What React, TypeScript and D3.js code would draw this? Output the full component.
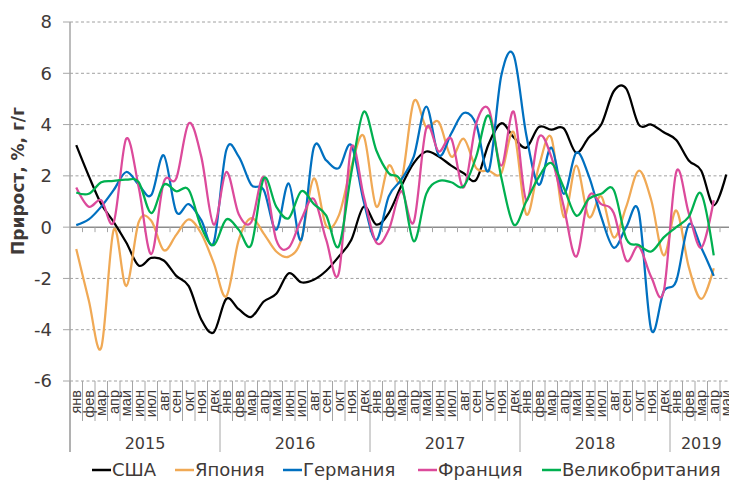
import React from "react";
import * as d3 from "d3";

const months = ["янв", "фев", "мар", "апр", "май", "июн", "июл", "авг", "сен", "окт", "ноя", "дек"];
const years = ["2015", "2016", "2017", "2018", "2019"];
const yTicks = [-6, -4, -2, 0, 2, 4, 6, 8];

// прирост, % г/г, с января 2015
const usa = [
  3.2, 2.0, 0.9, 0.2, -0.6, -1.5, -1.2, -1.3, -1.9, -2.3, -3.6, -4.1,
  -2.8, -3.2, -3.5, -2.9, -2.6, -1.8, -2.15, -2.05, -1.7, -1.15, -0.5, 0.8,
  0.1, 0.55, 1.6, 2.5, 2.95, 2.75, 2.4, 2.1, 1.85, 3.25, 4.05, 3.5,
  3.1, 3.9, 3.8, 3.85, 2.9, 3.5, 4.0, 5.3, 5.4, 4.0, 4.0, 3.7,
  3.4, 2.6, 2.2, 0.85, 2.05,
];
const japan = [
  -0.85, -2.85, -4.7, -0.1, -2.3, 0.2, 0.25, -0.9, -0.3, 0.3, -0.25, -1.4,
  -2.7, -0.5, 0.35, -0.25, -0.95, -1.15, -0.5, 1.9, 0.05, 0.45, 2.35, 3.55,
  0.8, 2.4, 1.8, 4.9, 3.9, 4.1, 2.75, 3.45, 2.3, 2.2, 2.1, 3.7,
  0.5, 2.35, 3.5, 0.4, 2.4, 0.4, 1.2, -0.4, 0.8, 2.2, 1.05, -1.1,
  0.65, -1.55, -2.8, -1.6,
];
const germany = [
  0.08, 0.3, 0.8, 1.45, 2.15, 1.65, 1.25, 2.8, 0.6, 0.9, 0.27, -0.6,
  3.0, 2.75, 1.65, 1.45, -0.1, 1.7, -0.5, 3.1, 2.6, 2.3, 3.2, 1.0,
  -0.5, 1.2, 1.85, 2.75, 4.7, 2.8, 3.65, 4.45, 4.0, 2.2, 5.9, 6.7,
  3.6, 1.65, 3.1, 1.3, 2.9, 2.0, 0.4, -0.8, 0.0, 0.6, -4.0, -2.5,
  -2.1, 0.1, -0.8, -1.9,
];
const france = [
  1.55, 0.8, 1.05, 0.2, 3.45, 1.55, -1.05, 1.75, 1.9, 4.05, 2.75, 0.1,
  2.15, 0.5, 0.2, 1.95, -0.5, -0.8, 0.3, 1.1, -0.5, -1.8, 3.1, 1.2,
  -0.6, -0.1, 1.4, 0.2, 3.85, 2.95, 3.45, 1.55, 4.05, 4.6, 2.4, 4.5,
  1.05, 3.5, 2.75, 0.8, -1.15, 1.2, 0.9, 0.55, -1.3, -0.75, -1.95, -2.5,
  2.15, 0.55, -0.8, 1.05,
];
const uk = [
  1.35, 1.3, 1.75, 1.8, 1.85, 1.75, 0.55, 1.65, 1.4, 1.45, 0.0, -0.7,
  0.3, -0.1, -0.7, 1.9, 0.8, 0.35, 1.4, 0.9, 0.45, -0.75, 2.1, 4.5,
  3.0, 2.1, 1.75, -0.55, 1.3, 1.8, 1.75, 1.6, 2.75, 4.35, 1.95, 0.1,
  1.0, 1.95, 2.5, 1.55, 0.45, 1.1, 1.3, 1.45, -0.45, -0.7, -0.95, -0.4,
  0.0, 0.4, 1.3, -1.1,
];

const series = [
  { name: "США", color: "#000000", values: usa },
  { name: "Япония", color: "#F0A955", values: japan },
  { name: "Германия", color: "#0070C0", values: germany },
  { name: "Франция", color: "#DC4A9B", values: france },
  { name: "Великобритания", color: "#00B050", values: uk },
];

const W = 729;
const H = 483;
const nMonths = usa.length;
const left = 70;
const top = 22;
const bottom = 381;
const monthW = 12.5;
const font = "'DejaVu Sans', sans-serif";
const textColor = "#3f3a38";
const axisColor = "#a6a6a6";

export default function App() {
  const idx = d3.range(nMonths);
  const x = d3
    .scaleBand<number>()
    .domain(idx)
    .range([left, left + nMonths * monthW]);
  const y = d3.scaleLinear().domain([-6, 8]).range([bottom, top]);
  const cx = (i: number) => (x(i) as number) + x.bandwidth() / 2;

  const line = d3
    .line<number>()
    .x((_, i) => cx(i))
    .y((d) => y(d))
    .curve(d3.curveCardinal.tension(0));

  const bounds = d3.range(nMonths + 1).map((k) => left + k * monthW);
  const legendX = [92, 175, 283, 418, 542];

  return (
    <svg
      width={W}
      height={H}
      style={{ position: "absolute", left: 0, top: 0, background: "#fff" }}
    >
      {/* сетка */}
      {yTicks
        .filter((t) => t !== 0)
        .map((t) => (
          <line
            key={t}
            x1={left}
            x2={W}
            y1={y(t)}
            y2={y(t)}
            stroke="#a0a0a0"
            strokeDasharray="3,2.5"
            strokeWidth={1}
          />
        ))}
      <line x1={left} x2={W} y1={y(0)} y2={y(0)} stroke="#8c8c8c" strokeWidth={1.5} />
      {bounds.slice(1).map((b) => (
        <line key={"z" + b} x1={b} x2={b} y1={y(0)} y2={y(0) + 5} stroke={axisColor} strokeWidth={1} />
      ))}

      {/* ось Y */}
      <line x1={left} x2={left} y1={top} y2={452} stroke={axisColor} strokeWidth={1.5} />
      {yTicks.map((t) => (
        <g key={"yt" + t}>
          <line x1={left - 7} x2={left} y1={y(t)} y2={y(t)} stroke={axisColor} strokeWidth={1} />
          <text
            x={52}
            y={y(t)}
            dy="0.36em"
            textAnchor="end"
            fontFamily={font}
            fontSize={18}
            fill={textColor}
          >
            {t}
          </text>
        </g>
      ))}
      <text
        transform="translate(18,181) rotate(-90)"
        dy="0.36em"
        textAnchor="middle"
        fontFamily={font}
        fontSize={17}
        fontWeight="bold"
        fill={textColor}
      >
        Прирост, %, г/г
      </text>

      {/* ось категорий */}
      {bounds.map((b, k) => (
        <line
          key={"b" + k}
          x1={b}
          x2={b}
          y1={bottom}
          y2={k % 12 === 0 ? 452 : 421}
          stroke={axisColor}
          strokeWidth={1}
        />
      ))}
      {idx.map((i) => (
        <text
          key={"m" + i}
          transform={`translate(${cx(i)},390) rotate(-90)`}
          dy="0.36em"
          textAnchor="end"
          fontFamily="'Liberation Sans', sans-serif"
          fontSize={14.5}
          fill={textColor}
        >
          {months[i % 12]}
        </text>
      ))}
      {years.map((yr, j) => {
        const a = left + j * 12 * monthW;
        const b = Math.min(left + (j + 1) * 12 * monthW, left + nMonths * monthW);
        return (
          <text
            key={yr}
            x={(a + b) / 2}
            y={449}
            textAnchor="middle"
            fontFamily={font}
            fontSize={16}
            fill={textColor}
          >
            {yr}
          </text>
        );
      })}

      {/* линии */}
      {series.map((s) => (
        <path
          key={s.name}
          d={line(s.values) ?? ""}
          fill="none"
          stroke={s.color}
          strokeWidth={2.25}
          strokeLinejoin="round"
        />
      ))}

      {/* легенда */}
      {series.map((s, i) => (
        <g key={"l" + s.name} transform={`translate(${legendX[i]},470)`}>
          <line x1={0} x2={19} y1={0} y2={0} stroke={s.color} strokeWidth={2.5} />
          <text x={20} dy="0.36em" fontFamily={font} fontSize={18} fill={textColor}>
            {s.name}
          </text>
        </g>
      ))}
    </svg>
  );
}
